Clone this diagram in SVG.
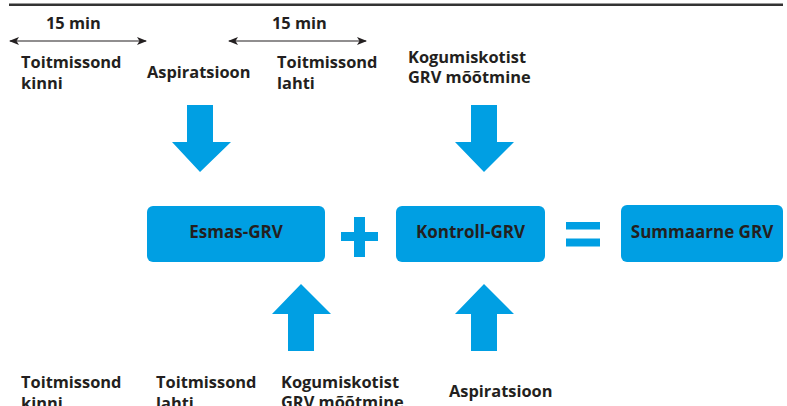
<svg xmlns="http://www.w3.org/2000/svg" width="787" height="406" viewBox="0 0 787 406">
<style>
.t{font-family:"Open Sans","Noto Sans","Liberation Sans",sans-serif;font-weight:700;font-size:16.4px;fill:#231f20}
.bt{font-family:"Open Sans","Noto Sans","Liberation Sans",sans-serif;font-weight:700;font-size:17px;fill:#231f20;text-anchor:middle}
.box{fill:#009fe3}
.blk{fill:#009fe3}
.dim{stroke:#231f20;stroke-width:1.2;fill:none}
</style>
<defs>
<marker id="ah" viewBox="0 0 10 8" refX="9" refY="4" markerWidth="10" markerHeight="8" markerUnits="userSpaceOnUse" orient="auto-start-reverse">
<path d="M0,0 L10,4 L0,8 L2.5,4 Z" fill="#231f20"/>
</marker>
</defs>
<line x1="9" y1="4.8" x2="783" y2="4.8" stroke="#333" stroke-width="2.6"/>
<g id="connectors">
<line class="dim" x1="10" y1="41" x2="146" y2="41" marker-start="url(#ah)" marker-end="url(#ah)"/>
<line class="dim" x1="229" y1="41" x2="366" y2="41" marker-start="url(#ah)" marker-end="url(#ah)"/>
<polygon class="blk" points="187,105 213,105 213,142 231,142 200,172 172,142 187,142"/>
<polygon class="blk" points="471,105 497,105 497,142 514,142 484,172 455,142 471,142"/>
<polygon class="blk" points="288,351 314,351 314,314 331,314 301,284 272,314 288,314"/>
<polygon class="blk" points="471,351 497,351 497,314 514,314 484,284 455,314 471,314"/>
</g>
<g id="labels-top">
<text class="t" x="46" y="28.5">15 min</text>
<text class="t" x="272" y="28.5">15 min</text>
<text class="t" x="21" y="67.5">Toitmissond<tspan x="21" y="88.5">kinni</tspan></text>
<text class="t" x="147" y="78">Aspiratsioon</text>
<text class="t" x="277" y="67.5">Toitmissond<tspan x="277" y="88.5">lahti</tspan></text>
<text class="t" x="408" y="62.5">Kogumiskotist<tspan x="408" y="82.5">GRV mõõtmine</tspan></text>
</g>
<g id="esmas">
<rect class="box" x="147" y="206" width="178" height="56" rx="6"/>
<text class="bt" x="236" y="237.5">Esmas-GRV</text>
</g>
<g id="plus">
<rect class="blk" x="354" y="217" width="11" height="40"/>
<rect class="blk" x="341" y="232" width="37" height="9"/>
</g>
<g id="kontroll">
<rect class="box" x="396" y="206" width="149" height="56" rx="6"/>
<text class="bt" x="470.5" y="237.5">Kontroll-GRV</text>
</g>
<g id="equals">
<rect class="blk" x="566" y="222" width="34" height="7.5"/>
<rect class="blk" x="566" y="238.5" width="34" height="8"/>
</g>
<g id="summaarne">
<rect class="box" x="621" y="205" width="162" height="57" rx="6"/>
<text class="bt" x="702" y="237.5">Summaarne GRV</text>
</g>
<g id="labels-bottom">
<text class="t" x="21" y="388">Toitmissond<tspan x="21" y="409">kinni</tspan></text>
<text class="t" x="156" y="388">Toitmissond<tspan x="156" y="409">lahti</tspan></text>
<text class="t" x="281" y="388">Kogumiskotist<tspan x="281" y="408">GRV mõõtmine</tspan></text>
<text class="t" x="449" y="397">Aspiratsioon</text>
</g>
</svg>
